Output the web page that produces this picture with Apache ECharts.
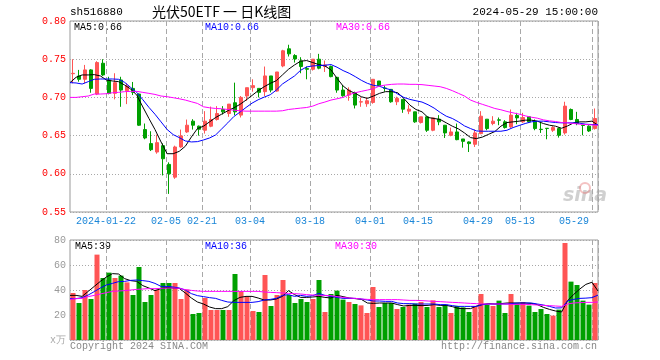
<!DOCTYPE html>
<html><head><meta charset="utf-8">
<script src="https://cdn.jsdelivr.net/npm/echarts@6/dist/echarts.min.js"></script>
<style>html,body{margin:0;padding:0;background:#fff}#c{width:660px;height:360px}</style>
</head><body><div id="c"></div>
<script>
const dates = ['2024-01-12','2024-01-15','2024-01-16','2024-01-17','2024-01-18','2024-01-19','2024-01-22','2024-01-23','2024-01-24','2024-01-25','2024-01-26','2024-01-29','2024-01-30','2024-01-31',
'2024-02-01','2024-02-02','2024-02-05','2024-02-06','2024-02-07','2024-02-08','2024-02-19','2024-02-20','2024-02-21','2024-02-22','2024-02-23','2024-02-26','2024-02-27','2024-02-28','2024-02-29',
'2024-03-01','2024-03-04','2024-03-05','2024-03-06','2024-03-07','2024-03-08','2024-03-11','2024-03-12','2024-03-13','2024-03-14','2024-03-15','2024-03-18','2024-03-19','2024-03-20','2024-03-21','2024-03-22','2024-03-25','2024-03-26','2024-03-27','2024-03-28','2024-03-29',
'2024-04-01','2024-04-02','2024-04-03','2024-04-08','2024-04-09','2024-04-10','2024-04-11','2024-04-12','2024-04-15','2024-04-16','2024-04-17','2024-04-18','2024-04-19','2024-04-22','2024-04-23','2024-04-24','2024-04-25','2024-04-26','2024-04-29','2024-04-30',
'2024-05-06','2024-05-07','2024-05-08','2024-05-09','2024-05-10','2024-05-13','2024-05-14','2024-05-15','2024-05-16','2024-05-17','2024-05-20','2024-05-21','2024-05-22','2024-05-23','2024-05-24','2024-05-27','2024-05-28','2024-05-29'];
const tickDates = ['2024-01-22','2024-02-05','2024-02-21','2024-03-04','2024-03-18','2024-04-01','2024-04-15','2024-04-29','2024-05-13','2024-05-29'];
const priceTicks = [0.55,0.60,0.65,0.70,0.75,0.80];
const volTicks = [0,20,40,60,80];

const openP = [0.731,0.728,0.7237,0.736,0.7044,0.7447,0.7228,0.7053,0.7228,0.7088,
0.7118,0.7044,0.6579,0.6395,0.6285,0.6368,0.6123,0.5956,0.6351,0.6548,
0.6689,0.6623,0.657,0.6623,0.6711,0.6842,0.6789,0.693,0.6768,0.7018,
0.7127,0.7118,0.7075,0.7281,0.7083,0.7412,0.7636,0.7548,0.7478,0.7377,
0.7368,0.75,0.7404,0.7404,0.7263,0.7096,0.7031,0.7061,0.6939,0.6917,
0.6934,0.7215,0.7122,0.7105,0.6943,0.6974,0.682,0.6811,0.6671,0.6746,
0.657,0.6715,0.6636,0.6504,0.6548,0.6456,0.6417,0.6386,0.6526,0.6715,
0.6658,0.6706,0.668,0.6614,0.6763,0.668,0.6746,0.6689,0.6583,0.6596,
0.657,0.6592,0.6535,0.6842,0.6711,0.6636,0.6623,0.6592];
const closeP = [0.7315,0.7237,0.736,0.7118,0.7456,0.7294,0.7053,0.7193,0.7096,0.7149,
0.7066,0.6636,0.6469,0.6316,0.6408,0.6197,0.6,0.6351,0.6496,0.6636,
0.6636,0.6583,0.6689,0.6711,0.6789,0.6811,0.6912,0.6811,0.7,0.7127,
0.7154,0.7066,0.7281,0.7096,0.7333,0.761,0.757,0.7504,0.7404,0.7368,
0.75,0.7382,0.7425,0.7272,0.7096,0.7022,0.7096,0.6899,0.6943,0.6956,
0.7237,0.7154,0.7118,0.6943,0.6987,0.6846,0.6846,0.668,0.6746,0.657,
0.6732,0.668,0.6535,0.6548,0.6447,0.6425,0.6395,0.6535,0.6754,0.6592,
0.6689,0.6702,0.6605,0.6768,0.6732,0.6737,0.668,0.6592,0.6579,0.6592,
0.6605,0.6504,0.6886,0.6711,0.6658,0.6632,0.6561,0.6724];
const lowP = [0.7184,0.7206,0.7184,0.7061,0.703,0.728,0.704,0.6974,0.6877,0.6912,
0.7031,0.6627,0.6452,0.6298,0.6263,0.5978,0.5737,0.5934,0.634,0.6535,
0.6579,0.65,0.6526,0.661,0.6697,0.6776,0.6746,0.6768,0.6737,0.6956,
0.7075,0.7,0.7018,0.7066,0.7075,0.7395,0.7535,0.7456,0.7316,0.7237,
0.7351,0.7368,0.7333,0.7263,0.7061,0.7009,0.6956,0.6855,0.6877,0.6877,
0.6917,0.714,0.7075,0.693,0.6899,0.6798,0.6781,0.6667,0.6658,0.6548,
0.6557,0.6636,0.6469,0.6491,0.6439,0.6342,0.6285,0.6351,0.6518,0.657,
0.6636,0.6636,0.6592,0.66,0.6649,0.6667,0.6667,0.657,0.6535,0.6452,
0.6548,0.6474,0.6513,0.6702,0.6636,0.6504,0.6548,0.6579];
const highP = [0.75,0.736,0.7425,0.737,0.7474,0.75,0.727,0.7316,0.727,0.7184,
0.7202,0.705,0.6658,0.6557,0.6513,0.6399,0.615,0.6368,0.6579,0.671,
0.6715,0.6632,0.682,0.688,0.6886,0.6886,0.6912,0.7193,0.7018,0.7127,
0.7237,0.7118,0.7404,0.7281,0.7333,0.7623,0.7689,0.7566,0.7526,0.7404,
0.75,0.757,0.7482,0.7417,0.7263,0.7162,0.7132,0.7075,0.7,0.7,
0.7237,0.7215,0.7154,0.7105,0.7009,0.6974,0.6899,0.6811,0.6746,0.6746,
0.6732,0.6768,0.6636,0.6605,0.6658,0.6456,0.6425,0.6579,0.682,0.6715,
0.6754,0.6737,0.6702,0.6842,0.6798,0.6798,0.6754,0.6711,0.668,0.6596,
0.6623,0.6605,0.6943,0.6855,0.6811,0.6636,0.6636,0.6855];
const volume = [37.6,29.6,40,32.8,68.3,49.6,53.9,49.6,51.5,46.1,
36,58.4,30.4,36,40.3,45.6,45.6,45.6,32.8,40.3,
20.8,21.6,33.6,24,24,24,24,52.8,39.2,34.7,
23.2,22.4,52,27.2,36,48,36,29.6,32.8,30.4,
32.8,48,22.4,36.8,39.5,32.3,30.4,28.8,27.7,21.6,
42.4,26.4,29.6,29.6,24.8,26.4,28.3,29.1,30.4,26.4,
31.7,26.4,28.3,21.6,27.2,26.1,22.4,27.2,36.8,28.3,
27.2,31.5,21.6,36.8,29.1,30.4,27.5,22.4,24.8,20.8,
19.5,24.3,77.6,46.7,44,31.5,28.3,45.6];
const ma5 = [0.7193,0.7263,0.7294,0.7294,0.7298,0.7281,0.7228,0.7215,0.7206,0.7162,
0.711,0.703,0.6875,0.6725,0.658,0.6417,0.6263,0.6263,0.6294,0.636,
0.6482,0.6592,0.6623,0.668,0.6737,0.6781,0.6825,0.6864,0.6908,0.6965,
0.7026,0.7088,0.714,0.7184,0.7219,0.7294,0.7368,0.7425,0.7474,0.7482,
0.7456,0.743,0.7412,0.736,0.725,0.7149,0.7088,0.7053,0.7009,0.6987,
0.7018,0.7053,0.7075,0.7075,0.7061,0.6987,0.6899,0.6842,0.6811,0.6737,
0.6724,0.6711,0.6667,0.6623,0.6588,0.6535,0.6474,0.6461,0.6482,0.6518,
0.6553,0.6623,0.6671,0.668,0.6689,0.6702,0.6702,0.6689,0.6658,0.6636,
0.6623,0.6596,0.6627,0.6667,0.668,0.668,0.6689,0.6636];
const ma10 = [0.7193,0.7189,0.7175,0.7206,0.7237,0.7241,0.7241,0.7241,0.7237,0.7197,
0.713,0.7065,0.697,0.687,0.678,0.668,0.658,0.6513,0.6474,0.643,
0.6417,0.6421,0.6443,0.6469,0.6509,0.6588,0.6667,0.675,0.6807,0.6868,
0.6925,0.6969,0.7004,0.7035,0.7096,0.7175,0.7228,0.7281,0.7355,0.7399,
0.7412,0.7417,0.7421,0.743,0.7395,0.7351,0.7316,0.7272,0.7224,0.7184,
0.7158,0.7145,0.7118,0.7096,0.7044,0.7,0.6974,0.6956,0.6939,0.6904,
0.686,0.6803,0.6754,0.6724,0.668,0.6627,0.6592,0.6561,0.6557,0.6557,
0.6557,0.6557,0.657,0.6605,0.6632,0.6658,0.668,0.6689,0.6689,0.668,
0.6671,0.6667,0.6667,0.6667,0.6662,0.6649,0.6645,0.6645];
const ma30 = [0.70,0.70,0.7009,0.7018,0.7044,0.7044,0.7048,0.7061,0.7066,0.7075,
0.7079,0.7079,0.7066,0.7053,0.7039,0.7018,0.7009,0.6996,0.6982,0.6965,
0.6943,0.6921,0.6877,0.6864,0.6855,0.6851,0.6842,0.6833,0.6825,0.682,
0.682,0.682,0.682,0.682,0.682,0.6825,0.6842,0.6851,0.686,0.6868,
0.6886,0.6917,0.6939,0.6965,0.6982,0.70,0.7035,0.7061,0.7079,0.7096,
0.7114,0.7149,0.7162,0.7171,0.7175,0.7175,0.7171,0.7171,0.7167,0.7158,
0.7149,0.714,0.7118,0.7088,0.7053,0.7018,0.6965,0.6934,0.6908,0.6882,
0.6855,0.6838,0.6816,0.6798,0.6781,0.6759,0.6741,0.6728,0.6706,0.6693,
0.6684,0.6671,0.6667,0.6658,0.6649,0.6645,0.664,0.6636];
const vma5 = [35.7,35.7,34.9,38.9,42.9,46.9,50.4,53.1,52.8,49.1,
47.5,46.9,43.5,41.6,39.5,41.1,42.1,41.6,41.3,37.6,
33.6,30.4,28.8,26.4,25.1,25.1,26.7,31.5,34.1,34.9,
34.9,33.6,32,32,32.8,34.9,39.5,36.3,34.1,34.1,
34.4,34.9,34.1,33.6,35.7,34.7,33.6,33.1,32.5,29.6,
29.3,29.6,29.6,29.6,28.3,27.2,27.7,27.7,27.5,27.7,
28.3,27.7,27.7,26.7,25.3,25.1,25.1,27.2,28.5,29.1,
28.8,29.1,29.6,29.6,29.6,29.6,29.3,28.3,26.1,24.5,
23.2,22.4,31.5,36.5,40.8,44.5,46.2,39.2];
const vma10 = [33.1,33.1,33.9,36,38.7,41.6,44,45.3,46.7,46.9,
47.7,48,47.5,46.9,45.3,42.9,42.9,42.4,41.6,40,
37.1,35.5,34.7,33.9,33.3,31.7,30.4,30.1,30.1,30.1,
30.1,30.7,32,32.5,33.3,35.7,36.3,34.9,35.7,34.9,
35.5,37.3,35.7,34.9,34.1,33.3,33.3,33.3,32.8,32,
31.2,31.2,30.9,30.9,29.6,29.1,29.1,28.8,28.8,28.8,
28.8,28.3,28.3,27.5,26.9,26.9,26.9,26.9,28.3,28.8,
28.8,28.8,28.8,29.3,29.6,29.6,29.6,28.8,28,26.9,
25.6,25.7,31.3,32.5,33.3,33.5,33.9,35.9];
const vma30 = [32.5,33.1,33.3,34.7,35.7,36.8,37.9,38.9,39.2,39.5,
40,40.5,40.8,41.1,41.1,41.3,41.6,41.6,41.3,40.3,
39.7,39.2,38.9,38.9,38.9,38.9,38.9,38.9,38.9,38.9,
38.9,38.9,38.4,38.1,37.9,37.6,37.3,37.1,36.8,36.3,
36,35.7,35.7,35.5,34.7,34.1,33.6,33.3,32.8,32.5,
32.3,32.3,32.3,32.3,32.3,32,31.7,31.7,31.5,31.2,
30.9,30.7,30.4,30.1,29.9,29.6,29.3,29.1,28.8,28.8,
28.8,28.8,28.8,28.5,28.5,28.5,28.3,28,27.7,27.5,
27.2,26.9,28.8,29.6,29.9,30.1,30.1,30.4];

const RED = '#ff5555', GREEN = '#00a000';
const MONO = '"Liberation Mono","DejaVu Sans Mono",monospace';
const GRIDC = '#a8a8a8';
const tickIdx = tickDates.map(d => dates.indexOf(d));
const isTick = (i) => tickIdx.indexOf(i) >= 0;

const kData = dates.map((d, i) => [openP[i], closeP[i], lowP[i], highP[i]]);
const volData = volume.map((v, i) => ({value: v, itemStyle: {color: closeP[i] >= openP[i] ? RED : GREEN}}));

const chart = echarts.init(document.getElementById('c'), null, {renderer: 'canvas'});
const lineS = (name, data, color, xi, yi) => ({
  type: 'line', name, data, xAxisIndex: xi, yAxisIndex: yi, symbol: 'none', silent: true,
  lineStyle: {color, width: 1}, z: 5, animation: false
});
const txt = (x, y, s, color, extra) => Object.assign({type: 'text', left: x, top: y, silent: true,
  style: Object.assign({text: s, fill: color, font: '10px ' + MONO}, extra || {})});

chart.setOption({
  animation: false,
  backgroundColor: '#ffffff',
  grid: [
    {left: 70, top: 21, width: 528, height: 191, show: true, borderColor: '#999', borderWidth: 1},
    {left: 70, top: 240, width: 528, height: 100, show: true, borderColor: '#999', borderWidth: 1}
  ],
  xAxis: [
    {type: 'category', gridIndex: 0, data: dates, boundaryGap: true,
     axisLine: {show: false}, axisTick: {show: false},
     axisLabel: {interval: (i) => isTick(i), formatter: (v) => v === tickDates[0] ? v : v.slice(5),
       color: '#1a86d8', fontFamily: MONO, fontSize: 10, margin: 4, padding: [0, 6, 0, 0], alignMaxLabel: 'right'},
     splitLine: {show: true, interval: (i) => isTick(i), lineStyle: {color: GRIDC, type: [5, 3], width: 1}}},
    {type: 'category', gridIndex: 0, data: dates, boundaryGap: false, show: false},
    {type: 'category', gridIndex: 1, data: dates, boundaryGap: true,
     axisLine: {show: false}, axisTick: {show: false}, axisLabel: {show: false},
     splitLine: {show: true, interval: (i) => isTick(i), lineStyle: {color: GRIDC, type: [5, 3], width: 1}}},
    {type: 'category', gridIndex: 1, data: dates, boundaryGap: false, show: false}
  ],
  yAxis: [
    {type: 'value', gridIndex: 0, min: priceTicks[0], max: priceTicks[priceTicks.length - 1], interval: 0.05,
     axisLine: {show: false}, axisTick: {show: false},
     axisLabel: {color: '#ff0000', fontFamily: MONO, fontSize: 10, margin: 4, formatter: (v) => v.toFixed(2)},
     splitLine: {show: true, lineStyle: {color: GRIDC, type: [1, 2], width: 1}}},
    {type: 'value', gridIndex: 1, min: volTicks[0], max: volTicks[volTicks.length - 1], interval: 20,
     axisLine: {show: false}, axisTick: {show: false},
     axisLabel: {color: '#999', fontFamily: MONO, fontSize: 10, margin: 4, formatter: (v) => v === 0 ? '' : String(v)},
     splitLine: {show: true, lineStyle: {color: GRIDC, type: [1, 2], width: 1}}}
  ],
  series: [
    {type: 'candlestick', xAxisIndex: 0, yAxisIndex: 0, data: kData, barWidth: 4, silent: true,
     itemStyle: {color: RED, color0: GREEN, borderColor: RED, borderColor0: GREEN, borderWidth: 1}},
    lineS('MA5', ma5, '#000000', 1, 0),
    lineS('MA10', ma10, '#0000ff', 1, 0),
    lineS('MA30', ma30, '#ff00ff', 1, 0),
    {type: 'bar', xAxisIndex: 2, yAxisIndex: 1, data: volData, barWidth: 5, silent: true},
    lineS('VMA5', vma5, '#000000', 3, 1),
    lineS('VMA10', vma10, '#0000ff', 3, 1),
    lineS('VMA30', vma30, '#ff00ff', 3, 1)
  ],
  graphic: [
    txt(70, 7, 'sh516880', '#000', {font: '11px ' + MONO}),
    {type: 'text', left: 152, top: 5, silent: true, style: {text: '光伏50ETF 一 日K线图', fill: '#000', font: '14px "Noto Sans CJK SC"'}},
    {type: 'text', right: 62, top: 7, silent: true, style: {text: '2024-05-29 15:00:00', fill: '#000', font: '11px ' + MONO}},
    txt(74, 22, 'MA5:0.66', '#000'),
    txt(205, 22, 'MA10:0.66', '#0000ff'),
    txt(336, 22, 'MA30:0.66', '#ff00ff'),
    txt(75, 241, 'MA5:39', '#000'),
    txt(205, 241, 'MA10:36', '#0000ff'),
    txt(335, 241, 'MA30:30', '#ff00ff'),
    txt(50, 335, 'x万', '#aaa'),
    txt(70, 341, 'Copyright 2024 SINA.COM', '#888'),
    {type: 'text', right: 63, top: 341, silent: true, style: {text: 'http://finance.sina.com.cn', fill: '#888', font: '10px ' + MONO}},
    {type: 'text', left: 563, top: 187, silent: true, style: {text: 'sina', fill: 'rgba(150,150,150,0.45)', font: 'italic bold 19px "DejaVu Sans"'}},
    {type: 'circle', shape: {cx: 585, cy: 188, r: 5}, silent: true, style: {fill: 'none', stroke: 'rgba(230,120,120,0.45)', lineWidth: 2}}
  ]
});
</script></body></html>
